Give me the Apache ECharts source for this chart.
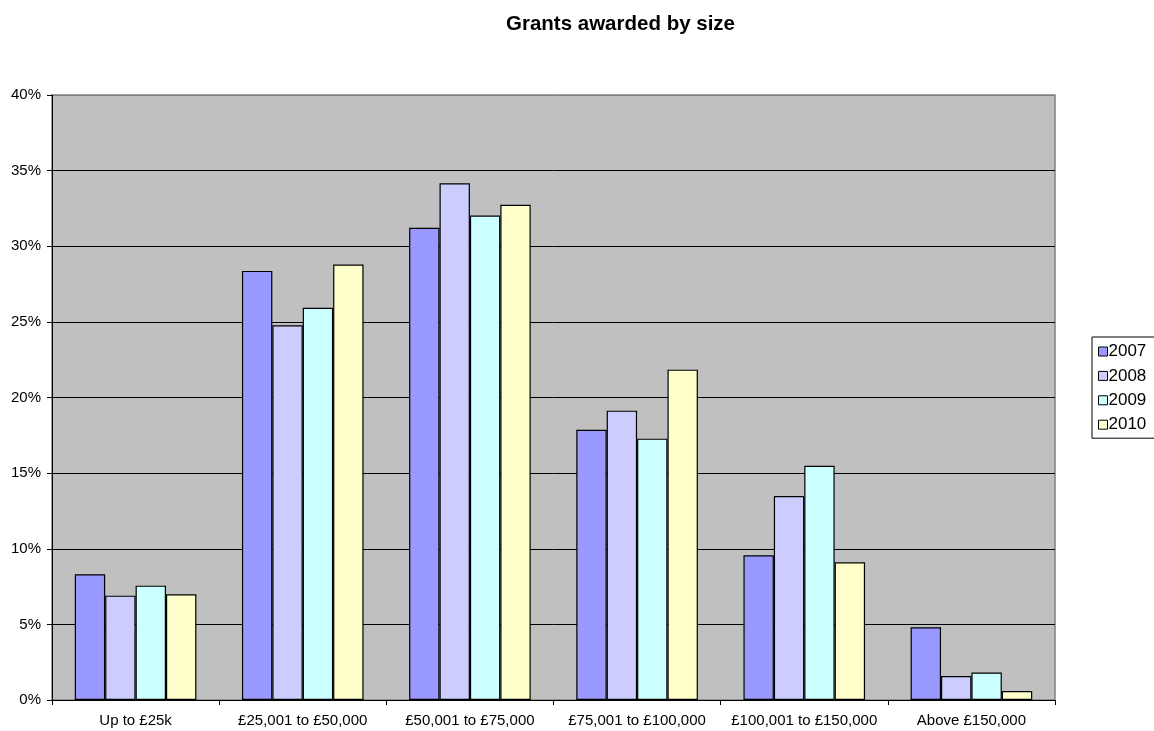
<!DOCTYPE html>
<html>
<head>
<meta charset="utf-8">
<title>Grants awarded by size</title>
<script src="https://cdn.jsdelivr.net/npm/echarts@6/dist/echarts.min.js"></script>
<style>
  html, body { margin: 0; padding: 0; background: #ffffff; }
  #chart { width: 1154px; height: 731px; }
</style>
</head>
<body>
<div id="chart"></div>
<script>
// Grant size bands and share of grants (%) per year
const categories = ['Up to £25k', '£25,001 to £50,000', '£50,001 to £75,000', '£75,001 to £100,000', '£100,001 to £150,000', 'Above £150,000'];
const years = ['2007', '2008', '2009', '2010'];
const values2007 = [8.31, 28.37, 31.22, 17.86, 9.57, 4.81];
const values2008 = [6.90, 24.78, 34.17, 19.13, 13.49, 1.59];
const values2009 = [7.56, 25.93, 32.03, 17.28, 15.48, 1.81];
const values2010 = [6.99, 28.79, 32.74, 21.84, 9.11, 0.60];
const yTicks = [0, 5, 10, 15, 20, 25, 30, 35, 40];

const seriesValues = [values2007, values2008, values2009, values2010];
const colors = ['#9999FF', '#CCCCFF', '#CCFFFF', '#FFFFCC'];
const FONT = '"Liberation Sans", Arial, sans-serif';

// gridlines are black; the top edge of the plot frame stays grey
const gridLineColors = yTicks.map((t, i) => (i === yTicks.length - 1 ? '#808080' : '#000000'));

const chart = echarts.init(document.getElementById('chart'), null, { renderer: 'canvas' });

chart.setOption({
  animation: false,
  title: {
    text: 'Grants awarded by size',
    left: 501,
    top: 9,
    textStyle: { fontFamily: FONT, fontSize: 20.5, fontWeight: 'bold', color: '#000' }
  },
  legend: {
    data: years,
    orient: 'vertical',
    left: 1092,
    top: 337,
    padding: [6, 12, 5, 6],
    itemGap: 7.4,
    itemWidth: 9,
    itemHeight: 9,
    borderColor: '#000',
    borderWidth: 1,
    icon: 'rect',
    itemStyle: { borderColor: '#000', borderWidth: 1 },
    textStyle: { fontFamily: FONT, fontSize: 17, lineHeight: 17, color: '#000', padding: [0, 0, 0, -4] }
  },
  grid: {
    left: 52,
    right: 99,
    top: 95,
    bottom: 31,
    show: true,
    backgroundColor: '#C0C0C0',
    borderColor: '#808080',
    borderWidth: 1.5
  },
  xAxis: {
    type: 'category',
    data: categories,
    axisLine: { lineStyle: { color: '#000', width: 1 } },
    axisTick: { show: true, length: 5, lineStyle: { color: '#000' } },
    axisLabel: { fontFamily: FONT, fontSize: 15, color: '#000', margin: 13, interval: 0 }
  },
  yAxis: {
    type: 'value',
    min: 0,
    max: 40,
    interval: 5,
    axisLine: { show: true, lineStyle: { color: '#000', width: 1 } },
    axisTick: { show: true, length: 5, lineStyle: { color: '#000' } },
    axisLabel: {
      fontFamily: FONT, fontSize: 15, color: '#000', margin: 11,
      formatter: v => (yTicks.indexOf(v) >= 0 ? v + '%' : '')
    },
    splitLine: { show: true, lineStyle: { color: gridLineColors, width: 1 } }
  },
  series: years.map((y, i) => ({
    name: y,
    type: 'bar',
    data: seriesValues[i],
    barWidth: 30.4,
    barGap: '0%',
    itemStyle: { color: colors[i], borderColor: '#000', borderWidth: 1.2 }
  }))
});
</script>
</body>
</html>
